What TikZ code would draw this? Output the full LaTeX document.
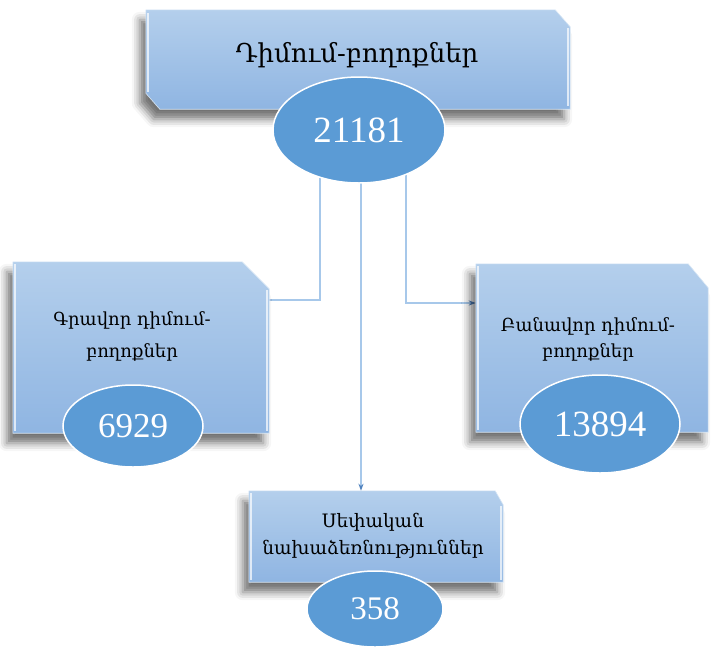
\documentclass[tikz,border=0pt]{standalone}
\usepackage{fontspec}
\newfontfamily\armfont{DejaVu Serif}
\newfontfamily\numfont{Liberation Serif}
\usetikzlibrary{shapes.geometric,shadows.blur,arrows.meta,backgrounds}
\definecolor{boxtop}{HTML}{B4CFEC}
\definecolor{boxbot}{HTML}{8FB5E2}
\definecolor{ellfill}{HTML}{5B9BD5}
\definecolor{linelt}{HTML}{A7C8EA}
\definecolor{tipcol}{HTML}{4F81BD}
\tikzset{
  frame/.style={rectangle, inner sep=0pt},
  panel/.style={top color=boxtop, bottom color=boxbot,
    draw=boxtop!50!white, line width=0.6pt,
    blur shadow={shadow xshift=-6pt, shadow yshift=-10pt, shadow blur radius=8pt, shadow opacity=55}},
  oval/.style={ellipse, fill=ellfill, draw=white, line width=1.5pt, inner sep=0pt,
    text=white, font=\numfont},
  lbl/.style={align=center, font=\armfont, text=black},
  conn/.style={draw=linelt, line width=1.3pt},
  bevel/.style={draw=white, opacity=0.7, line width=1.6pt},
  tip/.style={-{Stealth[length=7pt,width=5pt,color=tipcol]}},
}
\begin{document}
\begin{tikzpicture}[x=1pt,y=-1pt]
\useasboundingbox (0,0) rectangle (711,648);
% frames (anchors)
\node[frame, minimum width=424pt, minimum height=99pt] (b1) at (358,59.5) {};
\node[frame, minimum width=256pt, minimum height=171pt] (b2) at (141,347.5) {};
\node[frame, minimum width=232pt, minimum height=168pt] (b3) at (592,348) {};
\node[frame, minimum width=254pt, minimum height=91pt] (b4) at (376,536.5) {};
% panels
\path[panel] ([xshift=-15pt]b1.north east) -- ([yshift=-17pt]b1.north east) -- (b1.south east)
  -- ([xshift=14pt]b1.south west) -- ([yshift=16pt]b1.south west) -- (b1.north west) -- cycle;
\path[panel] ([xshift=-27pt]b2.north east) -- ([yshift=-27pt]b2.north east) -- (b2.south east)
  -- (b2.south west) -- (b2.north west) -- cycle;
\path[panel] ([xshift=-20pt]b3.north east) -- ([yshift=-24pt]b3.north east) -- (b3.south east)
  -- (b3.south west) -- (b3.north west) -- cycle;
\path[panel] ([xshift=-8pt]b4.north east) -- ([yshift=-14pt]b4.north east) -- (b4.south east)
  -- (b4.south west) -- (b4.north west) -- cycle;
% bevels
\draw[bevel] ([xshift=2pt,yshift=-3pt]b1.north west) -- ([xshift=2pt,yshift=17pt]b1.south west);
\draw[bevel] ([xshift=-2pt,yshift=-18pt]b1.north east) -- ([xshift=-2pt,yshift=3pt]b1.south east);
\draw[bevel] ([xshift=2pt,yshift=-2pt]b2.north west) -- ([xshift=2pt,yshift=2pt]b2.south west);
\draw[bevel] ([xshift=-2pt,yshift=-28pt]b2.north east) -- ([xshift=-2pt,yshift=2pt]b2.south east);
\draw[bevel] ([xshift=2pt,yshift=-2pt]b3.north west) -- ([xshift=2pt,yshift=2pt]b3.south west);
\draw[bevel] ([xshift=2pt,yshift=-2pt]b4.north west) -- ([xshift=2pt,yshift=2pt]b4.south west);
\draw[bevel] ([xshift=-2pt,yshift=-15pt]b4.north east) -- ([xshift=-2pt,yshift=2pt]b4.south east);
% labels
\node[lbl, font=\armfont\fontsize{26}{30}\selectfont] (t1) at (357,55) {Դիմում-բողոքներ};
\node[lbl, font=\armfont\fontsize{18}{32}\selectfont] (t2) at (132,336) {Գրավոր դիմում-\\բողոքներ};
\node[lbl, font=\armfont\fontsize{18}{26}\selectfont] (t3) at (588,339) {Բանավոր դիմում-\\բողոքներ};
\node[lbl, font=\armfont\fontsize{18.5}{27}\selectfont] (t4) at (373,536) {Սեփական\\նախաձեռնություններ};
% ellipses
\node[oval, minimum width=172pt, minimum height=106pt, font=\numfont\fontsize{37}{40}\selectfont] (e1) at (359,130) {21181};
\node[oval, minimum width=140pt, minimum height=82pt, font=\numfont\fontsize{35}{38}\selectfont] (e2) at (133,426) {6929};
\node[oval, minimum width=160pt, minimum height=98pt, font=\numfont\fontsize{37}{40}\selectfont] (e3) at (600,424) {13894};
\node[oval, minimum width=136pt, minimum height=76pt, font=\numfont\fontsize{33}{36}\selectfont] (e4) at (375,609) {358};
% connectors
\begin{pgfonlayer}{background}
\draw[conn] ([xshift=-39pt]e1.center) |- ([yshift=47.5pt]b2.east);
\draw[conn, tip] ([xshift=47pt]e1.center) |- ([yshift=45pt]b3.west);
\draw[conn, tip] ([xshift=2pt]e1.center) -- ([xshift=-15pt]b4.north);
\end{pgfonlayer}
\end{tikzpicture}
\end{document}
